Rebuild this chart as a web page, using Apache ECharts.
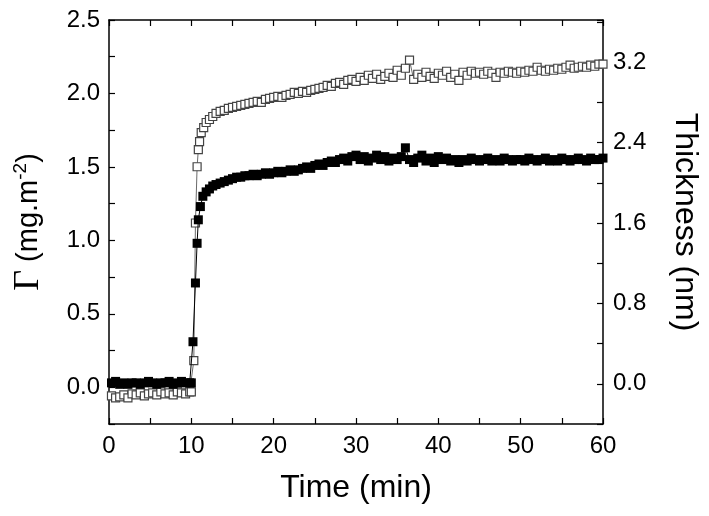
<!DOCTYPE html>
<html>
<head>
<meta charset="utf-8">
<script src="https://cdn.jsdelivr.net/npm/echarts@6/dist/echarts.min.js"></script>
<style>html,body{margin:0;padding:0;background:#fff;}#c{width:709px;height:516px;}</style>
</head>
<body>
<div id="c"></div>
<script>
// ---- data ----
var baseTimes = [0.3,0.8,1.3,1.8,2.3,2.8,3.3,3.8,4.3,4.8,5.3,5.8,6.3,6.8,7.3,7.8,8.3,8.8,9.3,9.8,10.0];
var lateTimes = [13.5,14,14.5,15,15.5,16,16.5,17,17.5,18,
  18.5,19,19.5,20,20.5,21,21.5,22,22.5,23,
  23.5,24,24.5,25,25.5,26,26.5,27,27.5,28,
  28.5,29,29.5,30,30.5,31,31.5,32,32.5,33,
  33.5,34,34.5,35,35.5,36,36.5,37,37.5,38,
  38.5,39,39.5,40,40.5,41,41.5,42,42.5,43,
  43.5,44,44.5,45,45.5,46,46.5,47,47.5,48,
  48.5,49,49.5,50,50.5,51,51.5,52,52.5,53,
  53.5,54,54.5,55,55.5,56,56.5,57,57.5,58,
  58.5,59,59.5,60];

// surface excess Γ (mg/m2), filled squares, left axis
var gammaBase = [0.03,0.04,0.02,0.03,0.02,0.03,0.03,0.02,0.03,0.04,0.03,0.02,0.03,0.03,0.04,0.02,0.03,0.04,0.03,0.03,0.03];
var gammaRiseTimes = [10.2,10.5,10.7,10.85,11.1,11.4,11.8,12.2,12.6,13.0];
var gammaRise = [0.31,0.71,0.98,1.14,1.23,1.30,1.33,1.35,1.37,1.38];
var gammaLate = [1.39,1.40,1.41,1.42,1.43,1.43,1.44,1.44,1.45,1.44,
  1.45,1.46,1.45,1.46,1.47,1.46,1.47,1.48,1.47,1.48,
  1.49,1.50,1.49,1.51,1.52,1.51,1.53,1.54,1.53,1.55,
  1.56,1.54,1.57,1.58,1.55,1.57,1.54,1.56,1.58,1.55,
  1.57,1.54,1.56,1.55,1.57,1.63,1.55,1.53,1.56,1.58,
  1.54,1.56,1.53,1.57,1.55,1.56,1.54,1.55,1.53,1.55,
  1.54,1.56,1.55,1.54,1.55,1.56,1.54,1.55,1.54,1.56,
  1.55,1.54,1.55,1.55,1.54,1.56,1.55,1.54,1.55,1.56,
  1.54,1.55,1.54,1.56,1.55,1.54,1.55,1.56,1.55,1.54,
  1.56,1.55,1.55,1.56];

// thickness (nm), open squares, right axis
var thickBase = [-0.12,-0.14,-0.13,-0.11,-0.14,-0.10,-0.11,-0.09,-0.12,-0.10,-0.09,-0.11,-0.08,-0.10,-0.09,-0.11,-0.08,-0.09,-0.10,-0.08,-0.08];
var thickRiseTimes = [10.3,10.5,10.7,10.85,11.0,11.2,11.5,11.8,12.2,12.6,13.0];
var thickRise = [0.23,1.60,2.16,2.33,2.41,2.50,2.55,2.60,2.63,2.66,2.69];
var thickLate = [2.71,2.72,2.74,2.75,2.76,2.77,2.78,2.79,2.80,2.81,
  2.80,2.83,2.84,2.85,2.86,2.85,2.87,2.88,2.90,2.89,
  2.91,2.90,2.92,2.93,2.94,2.95,2.97,2.96,2.99,3.00,
  2.98,3.02,3.03,3.01,3.05,3.02,3.07,3.04,3.08,3.03,
  3.06,3.09,3.05,3.12,3.07,3.14,3.22,3.03,3.08,3.05,
  3.10,3.06,3.04,3.09,3.07,3.11,3.05,3.08,3.02,3.10,
  3.07,3.11,3.09,3.10,3.08,3.11,3.09,3.05,3.10,3.09,
  3.11,3.10,3.09,3.11,3.10,3.12,3.11,3.15,3.12,3.11,
  3.13,3.12,3.14,3.13,3.15,3.17,3.14,3.15,3.16,3.15,
  3.17,3.16,3.18,3.18];

var xTickLabels = ['0','10','20','30','40','50','60'];
var leftTickLabels = ['0.0','0.5','1.0','1.5','2.0','2.5'];
var rightTickLabels = ['0.0','0.8','1.6','2.4','3.2'];

// ---- build ----
function pairs(ts, vs){ var o=[]; for(var i=0;i<ts.length;i++) o.push([ts[i], vs[i]]); return o; }
var gammaData = pairs(baseTimes.concat(gammaRiseTimes, lateTimes), gammaBase.concat(gammaRise, gammaLate));
var thickData = pairs(baseTimes.concat(thickRiseTimes, lateTimes), thickBase.concat(thickRise, thickLate));

function fmtFrom(list, dec){
  return function(v){
    var s = Number(v).toFixed(dec);
    return list.indexOf(s) >= 0 && Math.abs(Number(s) - v) < 1e-6 ? s : '';
  };
}

var FONT = 'Liberation Sans, Arial, sans-serif';
function axLine(){ return {show:true, onZero:false, lineStyle:{color:'#000', width:1.5}}; }
function tick(){ return {show:true, inside:true, length:6, lineStyle:{color:'#000', width:1.2}}; }

var chart = echarts.init(document.getElementById('c'), null, {renderer:'canvas'});
chart.setOption({
  animation:false,
  backgroundColor:'#fff',
  grid:{left:109, right:102, top:20, bottom:92},
  xAxis:[{
    type:'value', min:0, max:60, interval:5, position:'bottom',
    axisLine:axLine(), axisTick:tick(), splitLine:{show:false},
    axisLabel:{color:'#000', fontSize:24, fontFamily:FONT, margin:10,
      formatter:function(v){ var s=String(Math.round(v)); return (Math.abs(v-Math.round(v))<1e-6 && xTickLabels.indexOf(s)>=0)?s:''; }},
    name:'Time (min)', nameLocation:'middle', nameGap:48,
    nameTextStyle:{color:'#000', fontSize:32, fontFamily:FONT}
  },{
    type:'value', min:0, max:60, interval:5, position:'top',
    axisLine:axLine(), axisTick:tick(), axisLabel:{show:false}, splitLine:{show:false}
  }],
  yAxis:[{
    type:'value', min:-0.25, max:2.5, interval:0.25, position:'left',
    axisLine:axLine(), axisTick:tick(), splitLine:{show:false},
    axisLabel:{color:'#000', fontSize:24, fontFamily:FONT, margin:9, formatter:fmtFrom(leftTickLabels,1)},
    name:'{g|Γ} (mg.m{sup|-2})', nameLocation:'middle', nameRotate:90, nameGap:62,
    nameTextStyle:{color:'#000', fontSize:29, fontFamily:FONT,
      rich:{
        g:{fontFamily:'Liberation Serif, Times New Roman, serif', fontSize:36, color:'#000'},
        sup:{fontSize:19, fontFamily:FONT, color:'#000', verticalAlign:'top', padding:[0,0,14,0]}
      }}
  },{
    type:'value', min:-0.4, max:3.62, interval:0.4, position:'right',
    axisLine:axLine(), axisTick:tick(), splitLine:{show:false},
    axisLabel:{color:'#000', fontSize:24, fontFamily:FONT, margin:10, formatter:fmtFrom(rightTickLabels,1)},
    name:'Thickness (nm)', nameLocation:'middle', nameRotate:-90, nameGap:66,
    nameTextStyle:{color:'#000', fontSize:32, fontFamily:FONT}
  }],
  series:[{
    name:'Thickness', type:'line', yAxisIndex:1, data:thickData,
    symbol:'rect', symbolSize:8, showAllSymbol:true,
    lineStyle:{color:'#444', width:0.8},
    itemStyle:{color:'#fff', borderColor:'#444', borderWidth:1.2},
    z:2
  },{
    name:'Gamma', type:'line', yAxisIndex:0, data:gammaData,
    symbol:'rect', symbolSize:9, showAllSymbol:true,
    lineStyle:{color:'#000', width:1},
    itemStyle:{color:'#000', borderColor:'#000', borderWidth:0},
    z:3
  }]
});
</script>
</body>
</html>
